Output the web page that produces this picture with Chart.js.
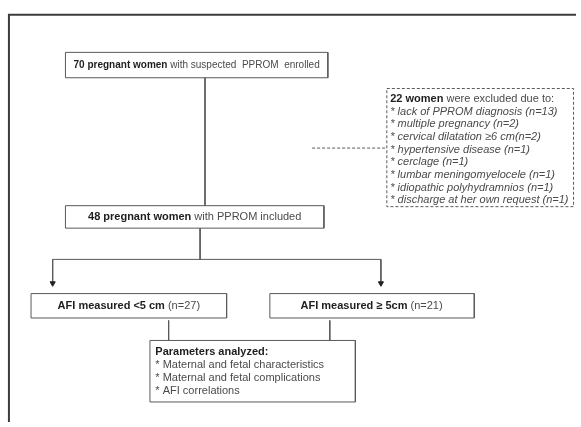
<!DOCTYPE html>
<html>
<head>
<meta charset="utf-8">
<script src="https://cdn.jsdelivr.net/npm/chart.js@4.4.1/dist/chart.umd.min.js"></script>
<style>
  html, body { margin: 0; padding: 0; background: #fff; }
  #wrap { width: 581px; height: 427px; }
</style>
</head>
<body>
<div id="wrap"><canvas id="flow"></canvas></div>
<script>
// flowchart data
const enrolled = 70
const included = 48
const excluded = 22
const excludeReasons = ['lack of PPROM diagnosis', 'multiple pregnancy', 'cervical dilatation \u22656 cm',
  'hypertensive disease', 'cerclage', 'lumbar meningomyelocele', 'idiopathic polyhydramnios',
  'discharge at her own request']
const excludeCounts = [13, 2, 2, 1, 1, 1, 1, 1]
const groupLabels = ['AFI measured <5 cm', 'AFI measured \u2265 5cm']
const groupCounts = [27, 21]
const parameters = ['Maternal and fetal characteristics', 'Maternal and fetal complications', 'AFI correlations']

const lineColor = '#5a5a5a'
const textDark = '#1e1e1e'
const textGray = '#4a4a4a'
const font = '"Liberation Sans", Arial, sans-serif'

// layout in page units (x right, y down)
const box = {
  enrolled: [61.5, 48.5, 328.5, 74.5],
  excluded: [388.5, 85.5, 578.5, 206.5],
  included: [61.5, 205.5, 324.5, 228.5],
  low: [26.5, 295.5, 225.5, 320.5],
  high: [269.5, 295.5, 477.5, 320.5],
  params: [147.5, 343.5, 356.5, 406.5]
}

function rect(b) {
  return [{x: b[0], y: b[1]}, {x: b[2], y: b[1]}, {x: b[2], y: b[3]}, {x: b[0], y: b[3]}, {x: b[0], y: b[1]}]
}

function seg(points, extra) {
  return Object.assign({
    data: points,
    showLine: true,
    borderColor: lineColor,
    borderWidth: 1,
    pointRadius: 0,
    tension: 0,
    fill: false
  }, extra || {})
}

function arrow(x, y0, y1) {
  return seg([{x: x, y: y0}, {x: x, y: y1}], {
    pointRadius: [0, 3],
    pointStyle: 'triangle',
    pointRotation: 180,
    pointBackgroundColor: '#222',
    pointBorderColor: '#222'
  })
}

const datasets = [
  // outer frame
  seg([{x: 4, y: 440}, {x: 4, y: 10}, {x: 600, y: 10}], {borderColor: '#3c3c3c', borderWidth: 2}),
  seg(rect(box.enrolled)),
  seg(rect(box.excluded), {borderDash: [3, 2]}),
  seg(rect(box.included)),
  seg(rect(box.low)),
  seg(rect(box.high)),
  seg(rect(box.params)),
  seg([{x: 203.5, y: 74.5}, {x: 203.5, y: 205.5}]),
  seg([{x: 312.5, y: 146.5}, {x: 388.5, y: 146.5}], {borderDash: [3, 2]}),
  seg([{x: 198.5, y: 228.5}, {x: 198.5, y: 260.5}]),
  seg([{x: 48.5, y: 260.5}, {x: 382.5, y: 260.5}]),
  arrow(48.5, 260.5, 285),
  arrow(382.5, 260.5, 285),
  seg([{x: 166.5, y: 323}, {x: 166.5, y: 343.5}]),
  seg([{x: 330.5, y: 323}, {x: 330.5, y: 343.5}])
]

// text blocks: each line is a list of [text, weight, style, color]
const excludedLines = [[[excluded + ' women', 'bold', 'normal', textDark], [' were excluded due to:', 'normal', 'normal', textGray]]]
excludeReasons.forEach(function (r, i) {
  const sep = r.endsWith('cm') ? '' : ' '
  excludedLines.push([['* ' + r + sep + '(n=' + excludeCounts[i] + ')', 'normal', 'italic', textGray]])
})

const paramLines = [[['Parameters analyzed:', 'bold', 'normal', textDark]]]
parameters.forEach(function (p) {
  paramLines.push([['* ' + p, 'normal', 'normal', textGray]])
})

const textBlocks = [
  {x: 195, y: 61.5, size: 10, align: 'center', lines: [[[enrolled + ' pregnant women', 'bold', 'normal', textDark],
    [' with suspected  PPROM  enrolled', 'normal', 'normal', textGray]]]},
  {x: 193, y: 217, align: 'center', lines: [[[included + ' pregnant women', 'bold', 'normal', textDark],
    [' with PPROM included', 'normal', 'normal', textGray]]]},
  {x: 392, y: 96, align: 'left', step: 13, lines: excludedLines},
  {x: 126, y: 308, align: 'center', lines: [[[groupLabels[0], 'bold', 'normal', textDark],
    [' (n=' + groupCounts[0] + ')', 'normal', 'normal', textGray]]]},
  {x: 373, y: 308, align: 'center', lines: [[[groupLabels[1], 'bold', 'normal', textDark],
    [' (n=' + groupCounts[1] + ')', 'normal', 'normal', textGray]]]},
  {x: 153, y: 355, align: 'left', step: 13.3, lines: paramLines}
]

const textPlugin = {
  id: 'flowText',
  afterDatasetsDraw(chart) {
    const c = chart.ctx
    const sx = chart.scales.x
    const sy = chart.scales.y
    c.save()
    c.textBaseline = 'middle'
    c.textAlign = 'left'
    textBlocks.forEach(function (b) {
      const size = b.size || 11
      b.lines.forEach(function (line, li) {
        let w = 0
        line.forEach(function (s) {
          c.font = s[2] + ' ' + s[1] + ' ' + size + 'px ' + font
          w += c.measureText(s[0]).width
        })
        let px = sx.getPixelForValue(b.x)
        if (b.align === 'center') px -= w / 2
        const py = sy.getPixelForValue(b.y + li * (b.step || 0))
        line.forEach(function (s) {
          c.font = s[2] + ' ' + s[1] + ' ' + size + 'px ' + font
          c.fillStyle = s[3]
          c.fillText(s[0], px, py)
          px += c.measureText(s[0]).width
        })
      })
    })
    c.restore()
  }
}

new Chart(document.getElementById('flow'), {
  type: 'scatter',
  data: {datasets: datasets},
  options: {
    responsive: true,
    maintainAspectRatio: false,
    animation: false,
    events: [],
    layout: {padding: 0},
    scales: {
      x: {type: 'linear', min: 0, max: 581, display: false},
      y: {type: 'linear', min: 0, max: 427, reverse: true, display: false}
    },
    plugins: {
      legend: {display: false},
      tooltip: {enabled: false}
    }
  },
  plugins: [textPlugin]
})
</script>
</body>
</html>
